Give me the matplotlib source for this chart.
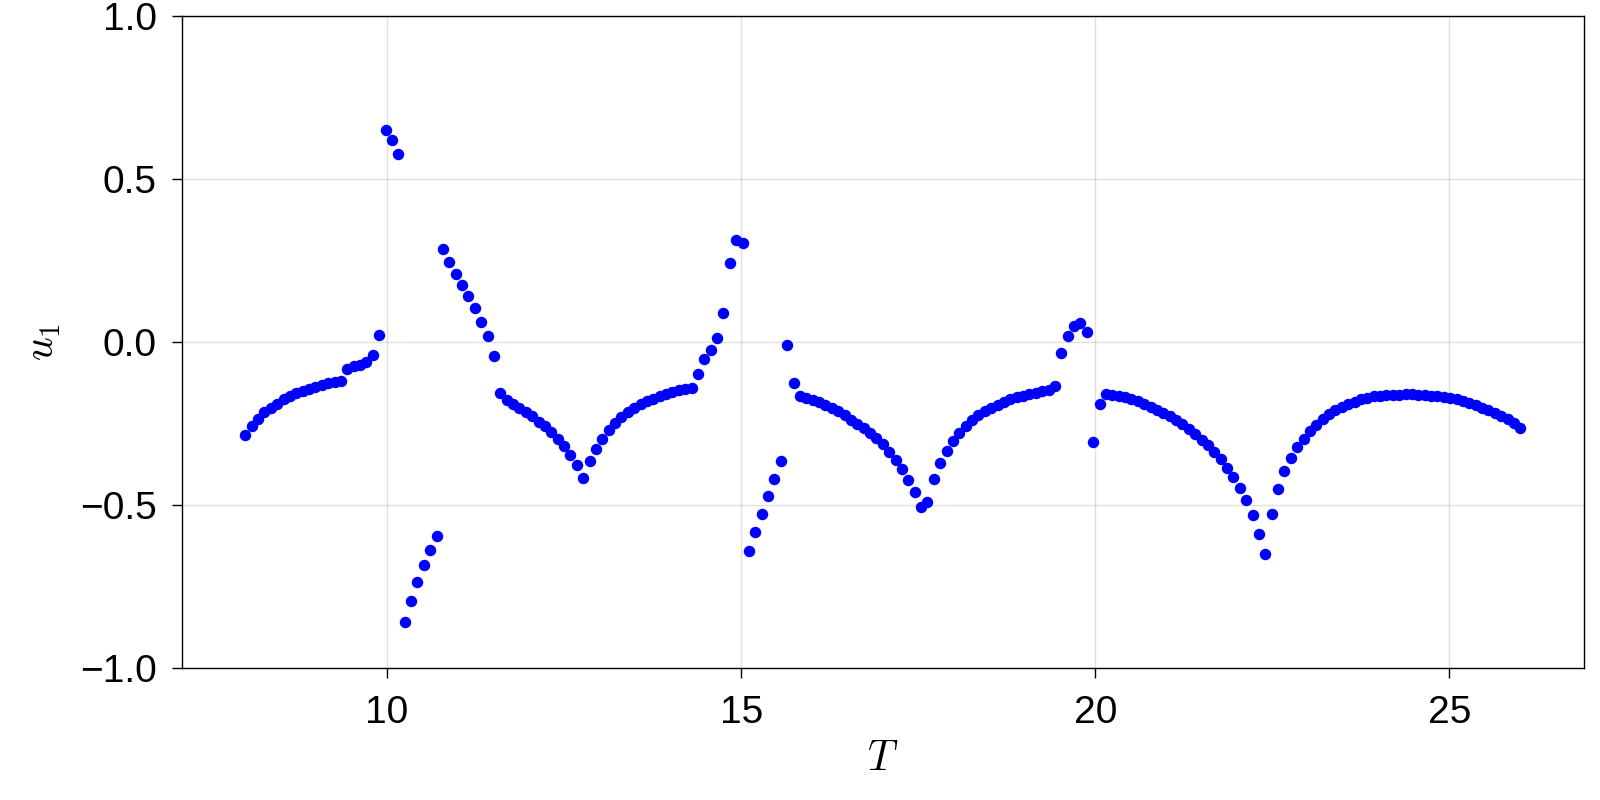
import numpy as np
import matplotlib
matplotlib.use("Agg")
import matplotlib.pyplot as plt

plt.rcParams['font.family'] = ['Liberation Sans', 'DejaVu Sans']
plt.rcParams['mathtext.fontset'] = 'cm'

# sampling grid in T (201 evenly spaced samples from 8 to 26)
T = np.linspace(8, 26, 201)

# u_1, one value per sample
u1 = [
    -0.283, -0.258, -0.235, -0.214, -0.201, -0.188, -0.174, -0.164, -0.155, -0.148,
    -0.142, -0.136, -0.131, -0.125, -0.121, -0.119, -0.081, -0.073, -0.068, -0.061,
    -0.039, 0.023, 0.652, 0.620, 0.577, -0.859, -0.792, -0.735, -0.683, -0.638,
    -0.595, 0.285, 0.248, 0.211, 0.177, 0.141, 0.104, 0.063, 0.018, -0.041,
    -0.156, -0.176, -0.189, -0.201, -0.214, -0.227, -0.243, -0.258, -0.274, -0.296,
    -0.319, -0.346, -0.377, -0.416, -0.364, -0.326, -0.296, -0.270, -0.248, -0.230,
    -0.214, -0.201, -0.189, -0.179, -0.173, -0.165, -0.158, -0.152, -0.147, -0.143,
    -0.141, -0.097, -0.052, -0.023, 0.013, 0.089, 0.244, 0.313, 0.305, -0.640,
    -0.581, -0.525, -0.471, -0.419, -0.364, -0.009, -0.124, -0.163, -0.170, -0.176,
    -0.184, -0.192, -0.202, -0.212, -0.224, -0.237, -0.250, -0.263, -0.277, -0.293,
    -0.313, -0.335, -0.360, -0.388, -0.421, -0.459, -0.505, -0.490, -0.420, -0.370,
    -0.334, -0.303, -0.277, -0.256, -0.239, -0.224, -0.212, -0.202, -0.192, -0.183,
    -0.175, -0.168, -0.163, -0.158, -0.154, -0.150, -0.146, -0.135, -0.034, 0.018,
    0.051, 0.058, 0.033, -0.305, -0.189, -0.158, -0.160, -0.163, -0.168, -0.173,
    -0.181, -0.189, -0.197, -0.206, -0.216, -0.226, -0.238, -0.250, -0.265, -0.280,
    -0.298, -0.315, -0.337, -0.359, -0.384, -0.413, -0.446, -0.485, -0.529, -0.588,
    -0.650, -0.525, -0.449, -0.395, -0.355, -0.322, -0.296, -0.272, -0.253, -0.236,
    -0.221, -0.208, -0.197, -0.189, -0.182, -0.175, -0.170, -0.166, -0.163, -0.161,
    -0.160, -0.160, -0.159, -0.159, -0.160, -0.161, -0.163, -0.165, -0.168, -0.171,
    -0.175, -0.180, -0.187, -0.193, -0.200, -0.208, -0.216, -0.225, -0.235, -0.247,
    -0.263,
]

x_ticks = [10, 15, 20, 25]
y_ticks = [-1.0, -0.5, 0.0, 0.5, 1.0]

fig = plt.figure(figsize=(16, 8), dpi=100)
ax = fig.add_axes([0.1135, 0.1645, 0.8765, 0.8151])

ax.scatter(T, u1, s=68, color='#0000ff', linewidths=0, zorder=3)

ax.set_xlim(7.1, 26.9)
ax.set_ylim(-1, 1)
ax.set_xticks(x_ticks)
ax.set_yticks(y_ticks)
ax.set_yticklabels(['\u22121.0', '\u22120.5', '0.0', '0.5', '1.0'])
ax.tick_params(axis='both', labelsize=28, length=7, width=1, direction='out',
               top=False, right=False)
ax.tick_params(axis='x', pad=12)
ax.tick_params(axis='y', pad=11)
ax.grid(True, color='black', alpha=0.12, linewidth=1)
ax.set_axisbelow(True)
for sp in ax.spines.values():
    sp.set_linewidth(1)
    sp.set_color('black')

ax.set_xlabel(r'$T$', fontsize=30, labelpad=6)
ax.set_ylabel(r'$u_1$', fontsize=30, labelpad=12)

fig.savefig('out.png', dpi=100)
